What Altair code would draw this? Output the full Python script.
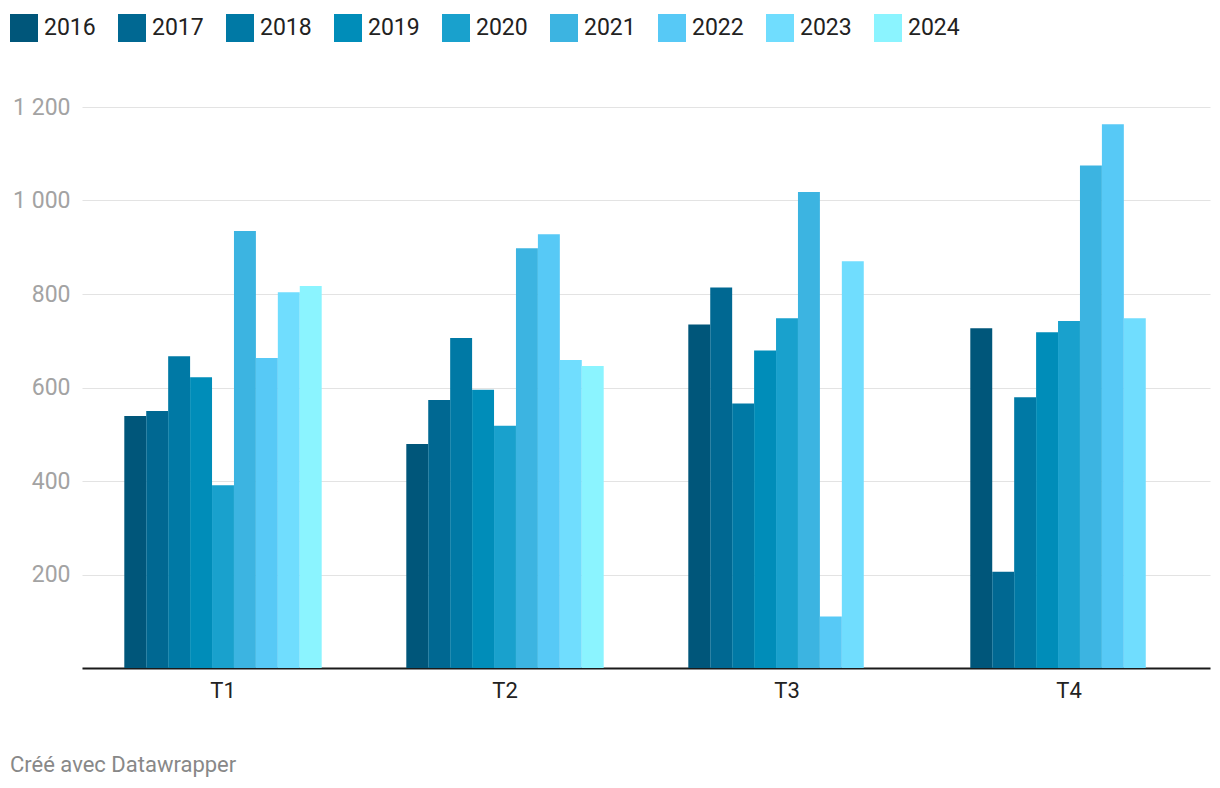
import altair as alt
import pandas as pd

quarters = ["T1", "T2", "T3", "T4"]
years = ["2016", "2017", "2018", "2019", "2020", "2021", "2022", "2023", "2024"]
colors = ["#00567a", "#006892", "#0079a5", "#008db9", "#19a1cd",
          "#3cb4e1", "#57c9f6", "#70ddfe", "#8bf4ff"]

v2016 = [539, 479, 735, 727]
v2017 = [550, 573, 814, 206]
v2018 = [667, 706, 566, 579]
v2019 = [622, 595, 679, 718]
v2020 = [391, 518, 748, 742]
v2021 = [935, 898, 1018, 1075]
v2022 = [663, 928, 110, 1163]
v2023 = [804, 659, 870, 748]
v2024 = [817, 646, None, None]

series = [v2016, v2017, v2018, v2019, v2020, v2021, v2022, v2023, v2024]
rows = []
for y, vals in zip(years, series):
    for q, v in zip(quarters, vals):
        if v is not None:
            rows.append({"quarter": q, "year": y, "value": v})
df = pd.DataFrame(rows)

FONT = "Roboto"

chart = alt.Chart(df).mark_bar().encode(
    x=alt.X("quarter:N", sort=quarters, title=None,
            scale=alt.Scale(paddingInner=0.3, paddingOuter=0.15),
            axis=alt.Axis(labelAngle=0, labelFontSize=22, labelColor="#222222",
                          labelFont=FONT, labelPadding=12, ticks=False,
                          domainColor="#1a1a1a", domainWidth=2, grid=False)),
    xOffset=alt.XOffset("year:N", sort=years,
                        scale=alt.Scale(paddingInner=0, paddingOuter=0)),
    y=alt.Y("value:Q", title=None,
            scale=alt.Scale(domain=[0, 1200], nice=False),
            axis=alt.Axis(values=[0, 200, 400, 600, 800, 1000, 1200],
                          labelExpr="datum.value == 0 ? '' : replace(format(datum.value, ','), ',', ' ')",
                          labelFontSize=23, labelColor="#a3a3a3", labelFont=FONT,
                          labelAlign="right", labelBaseline="middle",
                          labelPadding=12, ticks=False, domain=False,
                          gridColor="#e3e3e3", gridWidth=1)),
    color=alt.Color("year:N", sort=years,
                    scale=alt.Scale(domain=years, range=colors),
                    legend=alt.Legend(title=None, orient="none", direction="horizontal",
                                      legendX=-72, legendY=-93,
                                      symbolType="square", symbolSize=784,
                                      symbolStrokeWidth=0, symbolOpacity=1,
                                      labelFontSize=23, labelFont=FONT,
                                      labelColor="#222222", labelOffset=6,
                                      columnPadding=22, padding=0)),
).properties(
    width=1128,
    height=561,
    padding={"left": 2, "top": 6, "right": 2, "bottom": 5},
    title=alt.TitleParams("Créé avec Datawrapper", orient="bottom", anchor="start",
                          frame="bounds", fontSize=22, font=FONT,
                          fontWeight="normal", color="#888888", offset=54),
).configure_view(stroke=None).configure_bar(binSpacing=0)

chart.save("out.html", embed_options={"renderer": "svg", "actions": False})
